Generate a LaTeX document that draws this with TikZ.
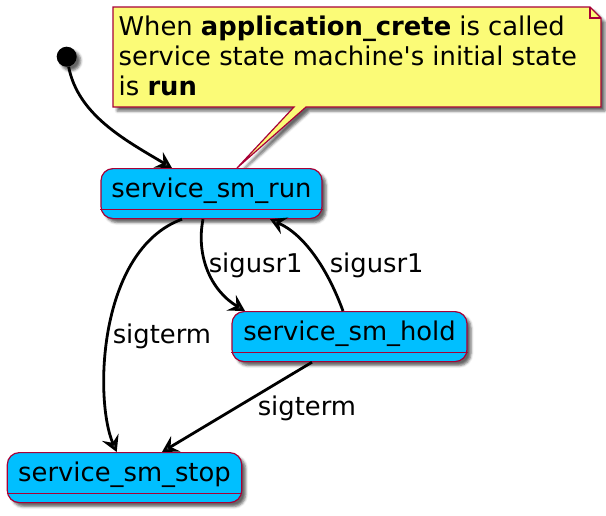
\documentclass[tikz,border=0pt]{standalone}
\usepackage{fontspec}
\setmainfont{DejaVu Sans}[Ligatures=TeXOff]
\usetikzlibrary{arrows.meta,shadows.blur}
\definecolor{stfill}{HTML}{00BFFF}
\definecolor{bd}{HTML}{A80036}
\definecolor{notefill}{HTML}{FBFB77}
\begin{document}
\begin{tikzpicture}[x=1pt,y=-1pt,
  every node/.style={font=\fontsize{25.8}{30.3}\selectfont},
  shad/.style={blur shadow={shadow xshift=4pt,shadow yshift=-4pt,shadow blur radius=2.5pt,shadow opacity=60}},
  state/.style={draw=bd,fill=stfill,line width=1.2pt,rounded corners=12pt,inner xsep=0pt,inner ysep=0pt,text height=29pt,text depth=21pt,anchor=north,shad},
  sep/.style={draw=bd,line width=1.2pt},
  arr/.style={draw,line width=2.8pt,-{Stealth[length=16pt,width=18pt,inset=6pt]}},
  lbl/.style={anchor=base west,inner sep=0pt}]
\useasboundingbox (0,0) rectangle (606,515);

% note
\path[draw=bd,fill=notefill,line width=1.2pt,shad] (113,7) -- (590,7) -- (601,18) -- (601,107) -- (306,107) -- (237,168) -- (294,107) -- (113,107) -- cycle;
\draw[sep] (590,7) -- (590,18) -- (601,18);
\node[lbl] (n1) at (118.5,35) {When \textbf{application\_crete} is called};
\node[lbl] (n2) at (118.5,65.3) {service state machine's initial state};
\node[lbl] (n3) at (118.5,95.7) {is \textbf{run}};

% states
\node[state,minimum width=221pt] (run) at (211.5,168) {service\_sm\_run};
\draw[sep] ([yshift=10pt]run.south west) -- ([yshift=10pt]run.south east);
\node[state,minimum width=235pt] (hold) at (349.5,311) {service\_sm\_hold};
\draw[sep] ([yshift=10pt]hold.south west) -- ([yshift=10pt]hold.south east);
\node[state,minimum width=234.4pt] (stop) at (124.5,452) {service\_sm\_stop};
\draw[sep] ([yshift=10pt]stop.south west) -- ([yshift=10pt]stop.south east);

% initial
\node[circle,fill=black,minimum size=20pt,inner sep=0pt,shad] (init) at (66.7,56.7) {};

% connectors
\draw[arr] (init) .. controls (78,115) and (125,140) .. ([xshift=-39.5pt]run.north);
\draw[arr] ([xshift=-29.5pt]run.south) .. controls (98,250) and (94,400) .. ([xshift=-7.8pt]stop.north);
\draw[arr] ([xshift=-8.5pt]run.south) .. controls (196,255) and (210,290) .. ([xshift=-104.5pt]hold.north);
\draw[arr] ([xshift=-6.5pt]hold.north) .. controls (328,270) and (305,235) .. ([xshift=58.5pt]run.south);
\draw[arr] ([xshift=-37.5pt]hold.south) -- ([xshift=37.5pt]stop.north);

% labels
\node[lbl] (t1) at (112.6,343) {sigterm};
\node[lbl] (u1) at (208.6,272) {sigusr1};
\node[lbl] (u2) at (329.6,272) {sigusr1};
\node[lbl] (t2) at (257.6,415) {sigterm};
\end{tikzpicture}
\end{document}
